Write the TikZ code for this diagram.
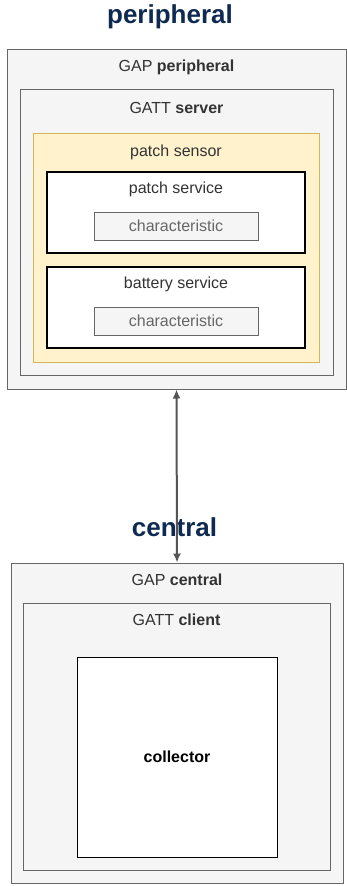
\documentclass[tikz,border=0pt]{standalone}
\usepackage{fontspec}
\setmainfont{Liberation Sans}
\usetikzlibrary{arrows.meta}

\definecolor{boxgray}{HTML}{F5F5F5}
\definecolor{linegray}{HTML}{666666}
\definecolor{arrowgray}{HTML}{555555}
\definecolor{textgray}{HTML}{333333}
\definecolor{sensorfill}{HTML}{FFF2CC}
\definecolor{sensorline}{HTML}{D6B656}
\definecolor{titlenavy}{HTML}{0E2A50}

\tikzset{
  layer/.style={draw=linegray, fill=boxgray, line width=1pt, inner sep=0pt},
  sensorbox/.style={draw=sensorline, fill=sensorfill, line width=1pt, inner sep=0pt},
  servicebox/.style={draw=black, fill=white, line width=1.2pt, inner sep=0pt},
  charbox/.style={draw=linegray, fill=boxgray, line width=1pt, inner sep=0pt,
    text=linegray, font=\fontsize{16}{19}\selectfont},
  lbl/.style={text=textgray, inner sep=0pt, font=\fontsize{16}{19}\selectfont},
  title/.style={text=titlenavy, inner sep=0pt, font=\fontsize{26}{30}\selectfont\bfseries}
}

\begin{document}
\begin{tikzpicture}[x=1pt, y=-1pt]
  \useasboundingbox (0,0) rectangle (347,886);

  %% peripheral side
  \node[title] (periphtitle) at (170,17) {peripheral};
  \node[layer, minimum width=339pt, minimum height=340pt] (gapperiph) at (176.5,219) {};
  \node[lbl] (gapperiphlbl) at (176.5,67) {GAP \textbf{peripheral}};
  \node[layer, minimum width=313pt, minimum height=286pt] (gattserver) at (176.5,232) {};
  \node[lbl] (gattserverlbl) at (176.5,108) {GATT \textbf{server}};

  %% sensor
  \node[sensorbox, minimum width=286pt, minimum height=229pt] (sensor) at (176,247.5) {};
  \node[lbl] (sensorlbl) at (176,152) {patch sensor};

  \node[servicebox, minimum width=258pt, minimum height=81pt] (patchsrv) at (176,212.5) {};
  \node[lbl] (patchsrvlbl) at (176,189) {patch service};
  \node[charbox, minimum width=164pt, minimum height=28pt] (patchchar) at (176,226) {characteristic};

  \node[servicebox, minimum width=258pt, minimum height=81pt] (battsrv) at (176,307.5) {};
  \node[lbl] (battsrvlbl) at (176,284) {battery service};
  \node[charbox, minimum width=164pt, minimum height=28pt] (battchar) at (176,321) {characteristic};

  %% central side
  \node[title] (centraltitle) at (174.5,527) {central};
  \node[layer, minimum width=332pt, minimum height=320pt] (gapcentral) at (177,723) {};
  \node[lbl] (gapcentrallbl) at (177,580) {GAP \textbf{central}};
  \node[layer, minimum width=307pt, minimum height=267pt] (gattclient) at (176.5,736.5) {};
  \node[lbl] (gattclientlbl) at (176.5,620) {GATT \textbf{client}};
  \node[servicebox, line width=1pt, minimum width=200pt, minimum height=200pt,
    font=\fontsize{16}{19}\selectfont\bfseries] (collector) at (177,757) {collector};

  %% link
  \draw[arrowgray, line width=2pt, {Latex[length=9pt,width=8pt]}-{Latex[length=9pt,width=8pt]}]
    (gapperiph.south) -- (gapcentral.north);
\end{tikzpicture}
\end{document}
